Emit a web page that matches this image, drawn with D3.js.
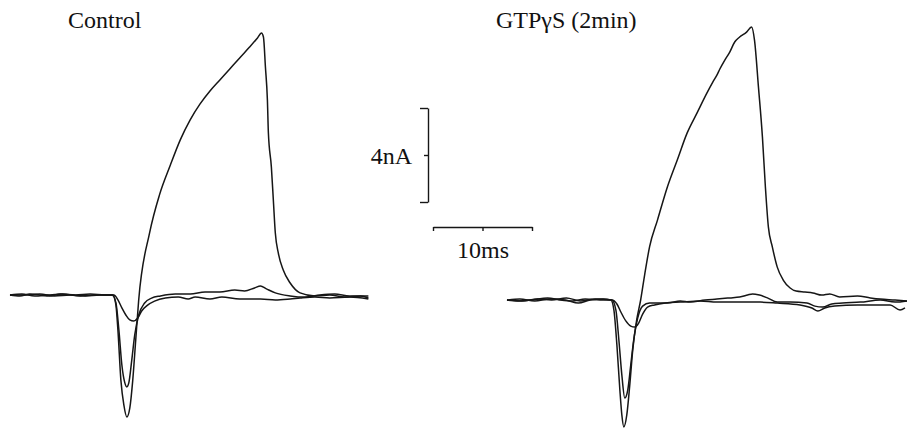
<!DOCTYPE html>
<html>
<head>
<meta charset="utf-8">
<script src="https://cdn.jsdelivr.net/npm/d3@7"></script>
<style>
  html, body { margin: 0; padding: 0; background: #fff; }
  svg { display: block; }
</style>
</head>
<body>
<svg id="chart" width="911" height="430"></svg>
<script>
// ---- Data: [time (ms), current (nA)] ----
const panelTitles = ["Control", "GTPγS (2min)"];
const scaleBarCurrent = [0, 2, 4];      // nA
const scaleBarTime = [0, 5, 10];        // ms
const scaleBarLabels = ["4nA", "10ms"];

const controlTrace1 = [[0,0],[1.0,-0.04],[2.0,0.04],[3.0,0],[4.0,-0.04],[5.1,0.04],[6.6,0],[8.1,0.04],[9.6,0],[10.4,0],
  [10.7,-0.43],[10.9,-1.49],[11.2,-3.62],[11.5,-4.68],[11.8,-5.19],[12.1,-4.81],[12.4,-3.62],[12.7,-1.91],[13.0,-0.21],
  [14.1,2.64],[15.1,4.26],[16.2,5.53],[17.2,6.60],[18.2,7.45],[19.2,8.13],[20.2,8.68],[21.2,9.15],[22.2,9.62],
  [23.2,10.09],[24.2,10.55],[25.0,10.94],[25.4,11.15],[25.6,10.98],[25.8,9.70],[26.0,8.30],[26.1,6.89],[26.4,5.45],
  [26.6,4.04],[26.8,2.64],[27.1,1.79],[27.6,1.06],[28.3,0.51],[29.3,0.09],[30.8,-0.04],[32.3,0],[33.8,-0.09],[35.4,-0.04],[36.2,-0.13]];

const controlTrace2 = [[0,0],[1.2,0.04],[2.5,-0.04],[3.8,0],[5.3,0.04],[7.1,-0.04],[8.6,0],[10.3,0],
  [10.7,-0.34],[11.0,-1.49],[11.3,-2.98],[11.6,-3.74],[11.8,-3.91],[12.0,-3.74],[12.3,-2.77],[12.6,-1.70],[13.0,-0.85],
  [13.6,-0.34],[14.3,-0.13],[15.2,-0.04],[16.7,0.04],[18.2,0.04],[19.7,0.13],[21.2,0.13],[22.7,0.21],[23.7,0.17],
  [24.7,0.30],[25.3,0.38],[25.9,0.26],[26.8,0.09],[28.3,-0.04],[29.8,-0.09],[31.3,0],[32.8,0.04],[34.3,-0.04],[36.2,-0.04]];

const controlTrace3 = [[0,0],[1.5,0],[3.0,0.04],[4.5,-0.04],[6.1,0],[7.6,-0.04],[9.1,0],[10.5,0],
  [10.9,-0.21],[11.3,-0.55],[11.7,-0.85],[12.1,-1.06],[12.5,-1.11],[12.9,-0.98],[13.3,-0.68],[13.9,-0.43],[14.6,-0.26],
  [15.7,-0.13],[17.0,-0.09],[18.0,-0.17],[18.7,-0.09],[20.2,-0.17],[21.4,-0.09],[23.2,-0.17],[25.3,-0.17],[26.8,-0.21],
  [28.3,-0.17],[29.3,-0.13],[30.8,-0.09],[32.3,-0.13],[34.3,-0.09],[36.2,-0.17]];

const gtpTrace1 = [[0,0],[1.3,0.04],[2.8,-0.04],[4.3,0.04],[5.9,0],[7.2,-0.13],[8.4,0],[9.7,0.04],[10.5,0],
  [10.8,-0.43],[11.1,-1.91],[11.4,-3.83],[11.6,-4.89],[11.8,-5.40],[12.1,-4.89],[12.4,-3.62],[12.7,-2.13],[13.1,-0.85],
  [13.5,0],[13.9,1.06],[14.4,2.26],[15.2,3.40],[16.2,4.81],[17.2,5.96],[18.2,7.11],[19.2,7.96],[20.2,8.81],[20.8,9.28],
  [21.2,9.57],[21.5,9.83],[22.0,10.21],[22.5,10.55],[23.0,10.98],[23.5,11.19],[24.2,11.40],[24.7,11.62],[25.0,11.06],
  [25.4,9.06],[25.8,6.94],[26.1,4.81],[26.4,3.11],[26.8,2.26],[27.3,1.40],[27.9,0.85],[28.6,0.51],[29.2,0.38],
  [30.1,0.34],[30.9,0.30],[31.8,0.21],[32.6,0.26],[33.6,0.13],[35.4,0.17],[36.7,0.09],[37.7,0.04],[39.2,0],[40.4,-0.04]];

const gtpTrace2 = [[0,0],[1.5,-0.04],[3.1,0.04],[4.5,0],[6.0,0.09],[7.4,-0.04],[8.9,0.04],[10.6,0],
  [11.0,-0.43],[11.3,-1.70],[11.6,-3.19],[11.9,-4.17],[12.2,-3.83],[12.5,-2.77],[12.8,-1.70],[13.2,-0.77],[13.7,-0.26],
  [14.4,-0.13],[16.2,-0.13],[17.5,-0.04],[18.5,-0.09],[20.0,0],[21.2,0.04],[22.5,0.09],[23.5,0.13],[24.3,0.21],
  [24.8,0.26],[25.5,0.21],[26.3,0.09],[27.3,-0.09],[28.6,-0.09],[30.3,-0.13],[31.1,-0.26],[31.9,-0.30],[32.8,-0.17],
  [33.9,-0.13],[35.7,-0.09],[37.7,0],[39.2,-0.09],[40.4,-0.04]];

const gtpTrace3 = [[0,0],[1.1,-0.04],[2.5,0],[4.1,0.09],[5.4,0],[6.6,-0.04],[7.9,0.04],[9.4,0],[10.6,0],
  [11.1,-0.17],[11.5,-0.51],[12.0,-0.89],[12.5,-1.11],[12.9,-1.15],[13.3,-0.98],[13.7,-0.60],[14.2,-0.30],[14.9,-0.21],
  [16.0,-0.13],[17.5,-0.09],[19.5,-0.04],[21.2,-0.09],[23.5,-0.09],[25.6,-0.09],[27.3,-0.13],[29.6,-0.21],[30.8,-0.34],
  [31.4,-0.47],[32.1,-0.34],[33.1,-0.26],[35.4,-0.21],[37.2,-0.21],[38.7,-0.21],[39.7,-0.43],[40.2,-0.34]];

// ---- Layout ----
const PX_PER_MS = 9.9;
const PX_PER_NA = 23.5;
const FONT = "'Liberation Serif', 'Times New Roman', 'DejaVu Serif', serif";
const svg = d3.select("#chart");

const panels = [
  { title: panelTitles[0], traces: [controlTrace3, controlTrace2, controlTrace1], x0: 10, y0: 295, titleX: 68, titleY: 28, tmax: 36.2 },
  { title: panelTitles[1], traces: [gtpTrace3, gtpTrace2, gtpTrace1], x0: 507, y0: 300, titleX: 496, titleY: 28, tmax: 40.4 }
];

panels.forEach(p => {
  const x = d3.scaleLinear().domain([0, p.tmax]).range([p.x0, p.x0 + p.tmax * PX_PER_MS]);
  const y = d3.scaleLinear().domain([0, 12]).range([p.y0, p.y0 - 12 * PX_PER_NA]);
  const line = d3.line().x(d => x(d[0])).y(d => y(d[1])).curve(d3.curveMonotoneX);
  const g = svg.append("g");
  g.selectAll("path.trace").data(p.traces).join("path")
    .attr("class", "trace")
    .attr("d", d => line(d))
    .attr("fill", "none")
    .attr("stroke", "#161616")
    .attr("stroke-width", 1.5)
    .attr("stroke-linejoin", "round");
  svg.append("text").attr("x", p.titleX).attr("y", p.titleY)
    .attr("font-family", FONT).attr("font-size", 24).attr("fill", "#111").text(p.title);
});

// ---- Scale bars ----
const barY = d3.scaleLinear().domain([0, 4]).range([202, 202 - 4 * PX_PER_NA]);
const vAxis = d3.axisLeft(barY).tickValues(scaleBarCurrent).tickSize(7).tickSizeOuter(0).tickFormat("");
const vg = svg.append("g").attr("transform", "translate(428,0)").call(vAxis);
vg.selectAll("path, line").attr("stroke", "#161616").attr("stroke-width", 1.4);
vg.selectAll(".tick line").attr("x2", (d) => d === 2 ? -4 : -8);

const barX = d3.scaleLinear().domain([0, 10]).range([433, 433 + 10 * PX_PER_MS]);
const hAxis = d3.axisBottom(barX).tickValues(scaleBarTime).tickSize(4).tickSizeOuter(0).tickFormat("");
const hg = svg.append("g").attr("transform", "translate(0,227)").call(hAxis);
hg.selectAll("path, line").attr("stroke", "#161616").attr("stroke-width", 1.4);

svg.append("text").attr("x", 412).attr("y", 164).attr("text-anchor", "end")
  .attr("font-family", FONT).attr("font-size", 24).attr("fill", "#111").text(scaleBarLabels[0]);
svg.append("text").attr("x", 483).attr("y", 258).attr("text-anchor", "middle")
  .attr("font-family", FONT).attr("font-size", 24).attr("fill", "#111").text(scaleBarLabels[1]);
</script>
</body>
</html>
